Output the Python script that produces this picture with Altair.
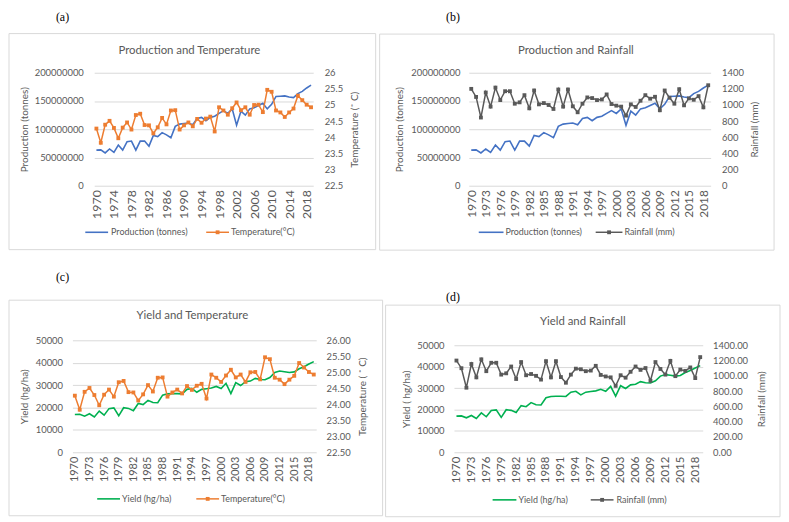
import altair as alt
import pandas as pd

years = list(range(1970, 2020))
production = [63000000, 63500000, 58000000, 65000000, 59000000, 72000000, 63000000, 78000000, 79000000, 63000000,
              79000000, 79000000, 70000000, 89000000, 87000000, 94000000, 90000000, 85000000, 105000000, 109000000,
              110000000, 111000000, 108000000, 119000000, 121000000, 115000000, 121000000, 123000000, 128000000, 133000000,
              128000000, 136000000, 107000000, 132000000, 125000000, 136000000, 138000000, 142000000, 146000000, 136000000,
              144000000, 158000000, 158500000, 159000000, 157000000, 156000000, 163000000, 167000000, 173000000, 178000000]
temperature = [24.27, 23.83, 24.39, 24.51, 24.29, 23.97, 24.30, 24.46, 24.24, 24.69,
               24.73, 24.38, 24.37, 24.12, 24.31, 24.60, 24.40, 24.83, 24.84, 24.24,
               24.37, 24.46, 24.34, 24.57, 24.45, 24.58, 24.64, 24.18, 24.93, 24.83,
               24.70, 24.90, 25.08, 24.84, 24.93, 24.70, 25.00, 25.01, 24.78, 25.47,
               25.41, 24.83, 24.77, 24.63, 24.77, 24.89, 25.29, 25.15, 25.01, 24.93]
rainfall = [1200, 1100, 845, 1155, 980, 1216, 1061, 1171, 1171, 1016,
            1033, 1122, 959, 1180, 1008, 1024, 1000, 951, 1192, 980,
            1192, 984, 910, 1016, 1094, 1086, 1061, 1069, 1131, 1012,
            992, 980, 869, 1008, 976, 1053, 1122, 1078, 1102, 935,
            1180, 1090, 1016, 1196, 996, 1082, 1065, 1110, 971, 1245]
yield_hg_ha = [16900, 17000, 16100, 17200, 15800, 18400, 16600, 19500, 19800, 16300,
               19900, 19600, 18600, 21800, 21300, 23200, 22200, 22100, 25500, 26100,
               26200, 26200, 26100, 28100, 28500, 26800, 28100, 28400, 28700, 29400,
               28500, 30800, 26200, 31100, 29800, 31500, 31800, 33000, 32500, 32400,
               33400, 35600, 36300, 36000, 35600, 35900, 37300, 38200, 39400, 40500]

ticks4 = list(range(1970, 2019, 4))
ticks3 = list(range(1970, 2019, 3))
prod_ticks = [0, 50000000, 100000000, 150000000, 200000000]
yield_ticks = [0, 10000, 20000, 30000, 40000, 50000]
temp_ticks = [22.5, 23, 23.5, 24, 24.5, 25, 25.5, 26]
rain_ticks = [0, 200, 400, 600, 800, 1000, 1200, 1400]

df = pd.DataFrame({"Year": years, "Production": production, "Temperature": temperature,
                   "Rainfall": rainfall, "Yield": yield_hg_ha})
one = pd.DataFrame({"k": [0]})

FONT = "Lato"
TXT = "#595959"
GRID = "#D9D9D9"
BLUE = "#4472C4"
ORANGE = "#ED7D31"
GRAY = "#595959"
GREEN = "#00B050"
MSIZE = 15


def v(x):
    return alt.value(x)


def panel(c):
    x_enc = alt.X("Year:Q",
                  scale=alt.Scale(domain=[1969.5, 2019.5], range=c["xr"], nice=False, zero=False),
                  axis=alt.Axis(values=c["xticks"], format="d", labelAngle=270, labelFont=FONT,
                                labelFontSize=c["xfs"], labelColor=TXT, labelPadding=4, ticks=False,
                                domain=False, grid=False, title="", labelOverlap=False, labelFlush=False))
    common = dict(titleAngle=270, titleAlign="center", titleBaseline="middle", titleFont=FONT,
                  titleFontSize=10, titleFontWeight="normal", titleColor=TXT, labelFont=FONT,
                  labelFontSize=9.5, labelColor=TXT, ticks=False, domain=False,
                  labelOverlap=False, labelFlush=False, titleY=c["ty"])
    y_left = alt.Y(c["lf"] + ":Q",
                   scale=alt.Scale(domain=c["ldom"], range=c["yr"], nice=False, zero=False),
                   axis=alt.Axis(orient="left", values=c["lvals"], format=c["lfmt"], offset=c["loff"],
                                 title=c["ltitle"], titleX=c["ltx"], labelPadding=c["lpad"], grid=True,
                                 gridColor=GRID, gridWidth=1, **common))
    y_right = alt.Y(c["rf"] + ":Q",
                    scale=alt.Scale(domain=c["rdom"], range=c["yr"], nice=False, zero=False),
                    axis=alt.Axis(orient="right", values=c["rvals"], format=c["rfmt"], offset=c["roff"],
                                  title=c["rtitle"], titleX=c["rtx"], labelPadding=c["rpad"], grid=False,
                                  **common))
    left = alt.Chart(df).mark_line(color=c["lc"], strokeWidth=1.6).encode(x=x_enc, y=y_left)
    right = alt.Chart(df).mark_line(
        color=c["rc"], strokeWidth=1.5,
        point=alt.OverlayMarkDef(shape="square", size=MSIZE, filled=True, color=c["rc"], opacity=1)
    ).encode(x=x_enc, y=y_right)

    b = c["box"]
    box = alt.Chart(one).mark_rect(filled=False, stroke=GRID, strokeWidth=1).encode(
        x=v(b[0]), x2=v(b[1]), y=v(b[2]), y2=v(b[3]))
    title = alt.Chart(one).mark_text(text=c["title"], font=FONT, fontSize=11.5, color=TXT,
                                     fontWeight="normal", align="center", baseline="middle").encode(
        x=v(c["tpos"][0]), y=v(c["tpos"][1]))
    label = alt.Chart(one).mark_text(text=c["label"], font="Liberation Serif", fontSize=12,
                                     color="#000000", align="center", baseline="middle").encode(
        x=v(c["lpos"][0]), y=v(c["lpos"][1]))
    lg = c["legend"]
    ly = lg["y"]
    l1 = alt.Chart(one).mark_rule(color=c["lc"], strokeWidth=1.6).encode(
        x=v(lg["l1"][0]), x2=v(lg["l1"][1]), y=v(ly))
    t1 = alt.Chart(one).mark_text(text=c["lname"], font=FONT, fontSize=9, color=TXT,
                                  align="left", baseline="middle").encode(x=v(lg["t1"]), y=v(ly))
    l2 = alt.Chart(one).mark_rule(color=c["rc"], strokeWidth=1.5).encode(
        x=v(lg["l2"][0]), x2=v(lg["l2"][1]), y=v(ly))
    m2 = alt.Chart(one).mark_square(size=MSIZE, color=c["rc"], opacity=1).encode(
        x=v((lg["l2"][0] + lg["l2"][1]) / 2), y=v(ly))
    t2 = alt.Chart(one).mark_text(text=c["rname"], font=FONT, fontSize=9, color=TXT,
                                  align="left", baseline="middle").encode(x=v(lg["t2"]), y=v(ly))
    layers = [left, right, box, title, label, l1, t1, l2, m2, t2]
    if c.get("anchor"):
        a = c["anchor"]
        layers.append(alt.Chart(one).mark_rect(opacity=0).encode(
            x=v(a[0]), x2=v(a[0] + 1), y=v(a[1]), y2=v(a[1] + 1)))
    return alt.layer(*layers).resolve_scale(y="independent").properties(width=c["W"], height=c["H"])


pa = panel(dict(
    W=246, H=114, xr=[22, 243], yr=[114, 0], xticks=ticks4, xfs=12.5,
    lf="Production", ldom=[0, 200000000], lvals=prod_ticks, lfmt="d", loff=-22, lpad=11,
    ltitle="Production (tonnes)", ltx=-70, ty=57,
    rf="Temperature", rdom=[22.5, 26], rvals=temp_ticks, rfmt=".1~f", roff=-3, rpad=11,
    rtitle="Temperature  (˚ C)", rtx=42,
    lc=BLUE, rc=ORANGE, lname="Production (tonnes)", rname="Temperature(°C)",
    box=[-64, 306, -39.5, 178.5], title="Production and Temperature", tpos=[118, -22],
    label="(a)", lpos=[-10, -56.5],
    legend=dict(y=161, l1=[13, 36], t1=39, l2=[135, 158], t2=160),
    anchor=[-64, -63]))

pb = panel(dict(
    W=259, H=114, xr=[15, 259], yr=[114, 0], xticks=ticks3, xfs=12,
    lf="Production", ldom=[0, 200000000], lvals=prod_ticks, lfmt="d", loff=-15, lpad=9,
    ltitle="Production (tonnes)", ltx=-70, ty=57,
    rf="Rainfall", rdom=[0, 1400], rvals=rain_ticks, rfmt="d", roff=0, rpad=11,
    rtitle="Rainfall (mm)", rtx=44,
    lc=BLUE, rc=GRAY, lname="Production (tonnes)", rname="Rainfall (mm)",
    box=[-75, 323, -39, 179], title="Production and Rainfall", tpos=[123, -22],
    label="(b)", lpos=[-1, -56.5],
    legend=dict(y=161, l1=[25, 50], t1=52, l2=[143, 170], t2=172)))

pc = panel(dict(
    W=246, H=113, xr=[0, 246], yr=[113, 0], xticks=ticks3, xfs=11,
    lf="Yield", ldom=[0, 50000], lvals=yield_ticks, lfmt="d", loff=0, lpad=10,
    ltitle="Yield (hg/ha)", ltx=-48, ty=56.5,
    rf="Temperature", rdom=[22.5, 26], rvals=temp_ticks, rfmt=".2f", roff=0, rpad=10,
    rtitle="Temperature ( ˚ C)", rtx=47,
    lc=GREEN, rc=ORANGE, lname="Yield (hg/ha)", rname="Temperature(°C)",
    box=[-64, 313, -40.5, 177], title="Yield and Temperature", tpos=[121, -24],
    label="(c)", lpos=[-10, -64],
    legend=dict(y=160, l1=[25, 48], t1=50, l2=[125, 148], t2=150)))

pd_ = panel(dict(
    W=259, H=113, xr=[0, 251], yr=[113, 5], xticks=ticks3, xfs=11.5,
    lf="Yield", ldom=[0, 50000], lvals=yield_ticks, lfmt="d", loff=0, lpad=10,
    ltitle="Yield ( hg/ha)", ltx=-48, ty=59,
    rf="Rainfall", rdom=[0, 1400], rvals=rain_ticks, rfmt=".2f", roff=-8, rpad=10,
    rtitle="Rainfall (mm)", rtx=59,
    lc=GREEN, rc=GRAY, lname="Yield (hg/ha)", rname="Rainfall (mm)",
    box=[-69, 329, -35.5, 178], title="Yield and Rainfall", tpos=[130, -18],
    label="(d)", lpos=[-1, -44],
    legend=dict(y=161, l1=[39, 63], t1=65, l2=[138, 161], t2=164)))

chart = alt.concat(pa, pb, pc, pd_, columns=2, bounds="flush",
                   spacing={"row": 156, "column": 139}).properties(padding=0).configure_view(strokeWidth=0)

chart.save("out.html", embed_options={"renderer": "svg", "actions": False})
